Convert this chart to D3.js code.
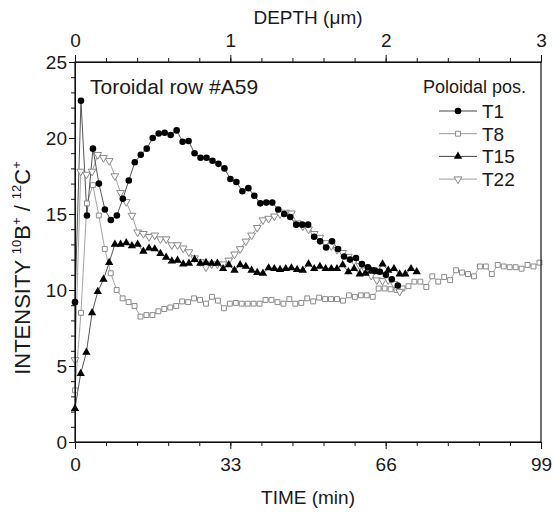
<!DOCTYPE html>
<html>
<head>
<meta charset="utf-8">
<script src="https://cdn.jsdelivr.net/npm/d3@7"></script>
<style>
	body { margin: 0; background: #fff; }
	text { font-family: "Liberation Sans", Arial, sans-serif; fill: #1a1a1a; }
</style>
</head>
<body>
<svg id="plot" width="553" height="512"></svg>
<script>

// sampling interval of each profile (min)
const T1_STEP = 1.27;
const T8_STEP = 1.265;
const T15_STEP = 1.21;
const T22_STEP = 1.21;

// intensity ratio 10B+/12C+
const T1_VALUES = [9.2, 22.45, 14.9, 19.3, 17.0, 15.3, 14.6, 14.9, 16.0, 17.2,
	18.4, 18.9, 19.3, 20.0, 20.3, 20.35, 20.2, 20.5, 19.75, 19.8,
	19.0, 18.7, 18.7, 18.5, 18.3, 18.0, 17.3, 17.1, 16.5, 16.7,
	16.2, 15.7, 15.75, 15.75, 15.3, 15.0, 14.8, 14.3, 14.3, 14.3,
	13.5, 13.2, 12.8, 13.2, 12.7, 12.2, 12.0, 12.1, 11.7, 11.5,
	11.3, 11.2, 11.0, 10.7, 10.3];

const T8_VALUES = [3.4, 8.5, 15.7, 16.9, 14.9, 12.7, 11.1, 10.0, 9.45, 9.2,
	8.95, 8.25, 8.35, 8.35, 8.6, 8.75, 8.85, 8.95, 9.25, 9.2,
	9.45, 9.35, 9.1, 9.55, 9.3, 8.8, 9.1, 9.15, 9.1, 9.1,
	9.1, 9.1, 9.35, 9.35, 9.2, 9.1, 9.4, 9.1, 9.15, 9.45,
	9.25, 9.5, 9.4, 9.4, 9.4, 9.3, 9.65, 9.55, 9.65, 9.65,
	9.55, 10.1, 10.1, 10.05, 10.0, 10.1, 10.25, 10.55, 10.55, 10.2,
	10.9, 10.55, 10.85, 10.65, 11.3, 11.15, 11.05, 10.9, 11.55, 11.55,
	11.05, 11.65, 11.55, 11.5, 11.5, 11.4, 11.65, 11.55, 11.8];

const T15_VALUES = [2.2, 4.5, 5.9, 8.5, 9.9, 10.7, 11.8, 13.0, 13.0, 13.1,
	12.9, 13.0, 12.55, 12.75, 12.7, 12.4, 12.15, 11.9, 11.95, 11.7,
	11.75, 12.0, 11.75, 11.8, 11.75, 11.75, 11.4, 11.65, 11.3, 11.65,
	11.55, 11.3, 11.15, 11.1, 11.45, 11.4, 11.35, 11.4, 11.45, 11.35,
	11.3, 11.7, 11.4, 11.55, 11.4, 11.4, 11.4, 11.65, 11.2, 11.4,
	11.05, 11.1, 11.25, 11.2, 11.7, 11.3, 11.4, 11.05, 11.05, 11.4,
	11.2];

const T22_VALUES = [5.4, 17.8, 17.6, 17.8, 18.9, 18.7, 18.5, 17.5, 16.4, 15.8,
	14.9, 13.8, 13.7, 13.5, 13.6, 13.35, 13.35, 12.96, 12.96, 12.75,
	12.5, 12.1, 11.85, 11.5, 11.7, 11.7, 11.7, 11.95, 12.35, 12.7,
	13.2, 13.6, 14.1, 14.6, 14.7, 14.85, 15.0, 15.1, 15.05, 14.4,
	14.2, 14.0, 13.7, 13.45, 13.1, 12.9, 12.65, 12.45, 12.2, 11.9,
	11.6, 11.3, 10.95, 10.65, 10.6, 10.65, 10.4, 9.9];

const SERIES_NAMES = ['T1', 'T8', 'T15', 'T22'];

const TIME_TICKS = [0, 33, 66, 99];
const DEPTH_TICKS = [0, 1, 2, 3];
const INTENSITY_TICKS = [0, 5, 10, 15, 20, 25];

const WIDTH = 553, HEIGHT = 512;
const MARGIN = { top: 62, right: 12, bottom: 70, left: 75 };

const svg = d3.select('#plot');
const plot_w = WIDTH - MARGIN.left - MARGIN.right;
const plot_h = HEIGHT - MARGIN.top - MARGIN.bottom;

const plot_area = svg.append('g')
	.attr('transform', `translate(${MARGIN.left},${MARGIN.top})`);

const x = d3.scaleLinear().domain([0, 99]).range([0, plot_w]);
const x_depth = d3.scaleLinear().domain([0, 3]).range([0, plot_w]);
const y = d3.scaleLinear().domain([0, 25]).range([plot_h, 0]);

// styles per series
const STYLES = {
	T1: { symbol: d3.symbolCircle, size: 34, fill: '#000', stroke: 'none', line: '#444', rotate: 0 },
	T8: { symbol: d3.symbolSquare, size: 24, fill: '#fff', stroke: '#8a8a8a', line: '#9a9a9a', rotate: 0 },
	T15: { symbol: d3.symbolTriangle, size: 30, fill: '#000', stroke: 'none', line: '#444', rotate: 0 },
	T22: { symbol: d3.symbolTriangle, size: 26, fill: '#fff', stroke: '#8a8a8a', line: '#9a9a9a', rotate: 180 }
};

function toPoints(values, step) {
	return values.map((v, i) => ({ t: i * step, v: v }));
}

const series = [
	{ name: 'T1', data: toPoints(T1_VALUES, T1_STEP) },
	{ name: 'T8', data: toPoints(T8_VALUES, T8_STEP) },
	{ name: 'T15', data: toPoints(T15_VALUES, T15_STEP) },
	{ name: 'T22', data: toPoints(T22_VALUES, T22_STEP) }
];

const line = d3.line().x(d => x(d.t)).y(d => y(d.v));

// draw the lines first, then markers on top (grey series drawn below black ones)
const draw_order = ['T8', 'T22', 'T15', 'T1'];
draw_order.forEach(name => {
	const s = series.find(d => d.name === name);
	plot_area.append('path')
		.datum(s.data)
		.attr('d', line)
		.attr('fill', 'none')
		.attr('stroke', STYLES[name].line)
		.attr('stroke-width', 0.9);
});
draw_order.forEach(name => {
	const s = series.find(d => d.name === name);
	const st = STYLES[name];
	plot_area.append('g')
		.selectAll('path')
		.data(s.data)
		.enter()
		.append('path')
			.attr('d', d3.symbol().type(st.symbol).size(st.size))
			.attr('transform', d => `translate(${x(d.t)},${y(d.v)}) rotate(${st.rotate})`)
			.attr('fill', st.fill)
			.attr('stroke', st.stroke)
			.attr('stroke-width', 1);
});

// frame
plot_area.append('rect')
	.attr('width', plot_w)
	.attr('height', plot_h)
	.attr('fill', 'none')
	.attr('stroke', '#111')
	.attr('stroke-width', 1.2);

// axes
const minor_time = d3.range(0, 99.01, 6.6);
plot_area.append('g')
	.attr('transform', `translate(0,${plot_h})`)
	.call(d3.axisBottom(x).tickValues(minor_time).tickSize(4).tickFormat('').tickSizeOuter(0));
plot_area.append('g')
	.attr('class', 'tick-labels')
	.attr('transform', `translate(0,${plot_h})`)
	.call(d3.axisBottom(x).tickValues(TIME_TICKS).tickSize(7).tickPadding(9).tickSizeOuter(0));

const minor_depth = d3.range(0, 3.001, 0.2);
plot_area.append('g')
	.call(d3.axisTop(x_depth).tickValues(minor_depth).tickSize(4).tickFormat('').tickSizeOuter(0));
plot_area.append('g')
	.attr('class', 'tick-labels')
	.call(d3.axisTop(x_depth).tickValues(DEPTH_TICKS).tickFormat(d3.format('d'))
		.tickSize(7).tickPadding(8).tickSizeOuter(0));

const minor_int = d3.range(0, 25.01, 1);
plot_area.append('g')
	.call(d3.axisLeft(y).tickValues(minor_int).tickSize(4).tickFormat('').tickSizeOuter(0));
plot_area.append('g')
	.attr('class', 'tick-labels')
	.call(d3.axisLeft(y).tickValues(INTENSITY_TICKS).tickSize(6).tickPadding(2).tickSizeOuter(0));

svg.selectAll('.domain').attr('stroke', '#111');
svg.selectAll('.tick line').attr('stroke', '#111');
svg.selectAll('.tick-labels text')
	.style('font-family', '"Liberation Sans", Arial, sans-serif')
	.style('font-size', '19px')
	.attr('fill', '#1a1a1a');

// axis titles
svg.append('text')
	.attr('x', MARGIN.left + plot_w / 2)
	.attr('y', 504)
	.attr('text-anchor', 'middle')
	.style('font-size', '19px')
	.text('TIME (min)');

svg.append('text')
	.attr('x', MARGIN.left + plot_w / 2)
	.attr('y', 24)
	.attr('text-anchor', 'middle')
	.style('font-size', '19px')
	.text('DEPTH (\u03bcm)');

const y_title = svg.append('text')
	.attr('transform', `translate(30,268) rotate(-90)`)
	.attr('text-anchor', 'middle')
	.style('font-size', '22px');
y_title.append('tspan').text('INTENSITY ');
y_title.append('tspan').text('10').attr('dy', -9).style('font-size', '13px');
y_title.append('tspan').text('B').attr('dy', 9);
y_title.append('tspan').text('+').attr('dy', -9).style('font-size', '13px');
y_title.append('tspan').text(' / ').attr('dy', 9);
y_title.append('tspan').text('12').attr('dy', -9).style('font-size', '13px');
y_title.append('tspan').text('C').attr('dy', 9);
y_title.append('tspan').text('+').attr('dy', -9).style('font-size', '13px');

// inner title
plot_area.append('text')
	.attr('x', 15)
	.attr('y', 32)
	.style('font-size', '21px')
	.text('Toroidal row #A59');

// legend
const legend = plot_area.append('g')
	.attr('transform', `translate(${plot_w}, 0)`);
legend.append('text')
	.attr('x', -15)
	.attr('y', 31)
	.attr('text-anchor', 'end')
	.style('font-size', '18px')
	.text('Poloidal pos.');

const legend_rows = legend.selectAll('g.row')
	.data(SERIES_NAMES)
	.enter()
	.append('g')
		.attr('class', 'row')
		.attr('transform', (d, i) => `translate(0,${49 + i * 22.7})`);
legend_rows.append('line')
	.attr('x1', -102).attr('x2', -64)
	.attr('stroke', d => STYLES[d].line)
	.attr('stroke-width', 1);
legend_rows.append('path')
	.attr('d', d => d3.symbol().type(STYLES[d].symbol).size(STYLES[d].size)())
	.attr('transform', d => `translate(-83,0) rotate(${STYLES[d].rotate})`)
	.attr('fill', d => STYLES[d].fill)
	.attr('stroke', d => STYLES[d].stroke);
legend_rows.append('text')
	.attr('x', -59)
	.attr('y', 7)
	.style('font-size', '19px')
	.text(d => d);

</script>
</body>
</html>
